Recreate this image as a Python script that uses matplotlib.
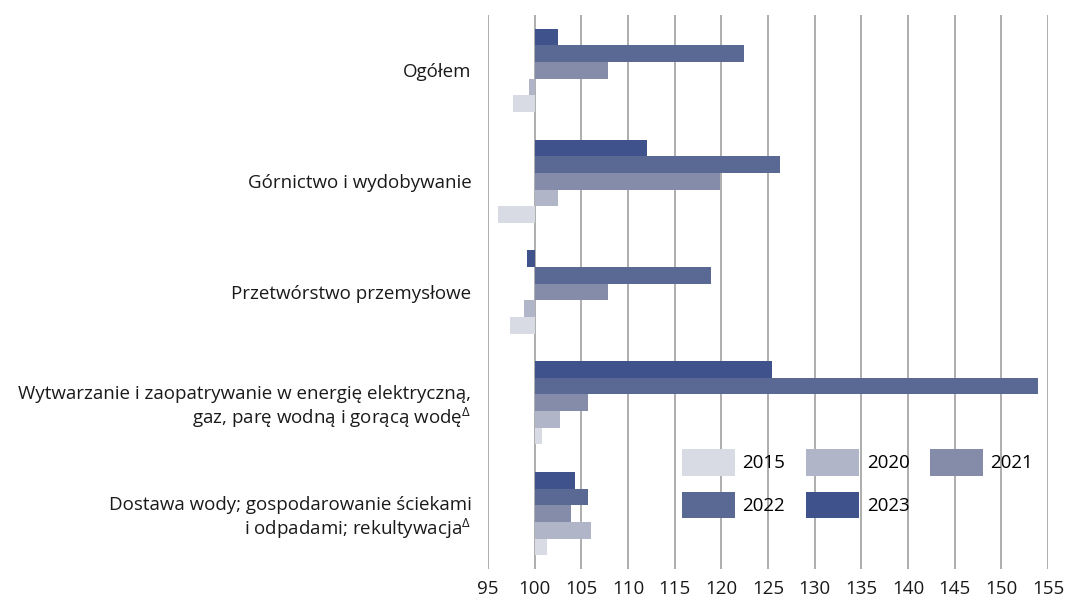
import matplotlib
matplotlib.use("Agg")
import matplotlib.pyplot as plt
import numpy as np

plt.rcParams['font.family'] = ['Open Sans', 'DejaVu Sans']
plt.rcParams['mathtext.fontset'] = 'custom'
plt.rcParams['mathtext.rm'] = 'Open Sans'
plt.rcParams['mathtext.it'] = 'Open Sans'

categories = [
    "Ogółem",
    "Górnictwo i wydobywanie",
    "Przetwórstwo przemysłowe",
    "Wytwarzanie i zaopatrywanie w energię elektryczną,\ngaz, parę wodną i gorącą wodę$^{\\Delta}$",
    "Dostawa wody; gospodarowanie ściekami\ni odpadami; rekultywacja$^{\\Delta}$",
]
years = ["2015", "2020", "2021", "2022", "2023"]
v2015 = [97.7, 96.1, 97.4, 100.8, 101.3]
v2020 = [99.4, 102.5, 98.8, 102.7, 106.0]
v2021 = [107.9, 119.9, 107.8, 105.7, 103.9]
v2022 = [122.4, 126.3, 118.9, 153.9, 105.7]
v2023 = [102.5, 112.0, 99.2, 125.4, 104.3]
series = [v2015, v2020, v2021, v2022, v2023]
colors = ["#d8dbe4", "#b0b5c8", "#858ca9", "#5a6894", "#3f528c"]
xticks = list(range(95, 160, 5))

fig = plt.figure(figsize=(10.67, 6.03), dpi=100)
ax = fig.add_axes([0.4574, 0.0564, 0.5248, 0.9187])

base = 100
h = 0.15
offsets = [0.3, 0.15, 0.0, -0.15, -0.3]
y = np.arange(len(categories))
handles = []
for vals, off, col, lab in zip(series, offsets, colors, years):
    vals = np.array(vals)
    b = ax.barh(y + off, vals - base, left=base, height=h, color=col, label=lab,
                edgecolor='none', zorder=2)
    handles.append(b)

ax.set_ylim(4.5, -0.5)
ax.set_xlim(95, 155)
ax.set_xticks(xticks)
ax.set_xticklabels([str(t) for t in xticks])
ax.set_yticks(y)
ax.set_yticklabels(categories, ha='right', multialignment='right')
ax.tick_params(axis='both', length=0, labelsize=13.5, colors='#1a1a1a')
ax.tick_params(axis='y', pad=12)
ax.tick_params(axis='x', pad=8)
for s in ax.spines.values():
    s.set_visible(False)
ax.grid(axis='x', color='#a0a0a0', linewidth=1.2)
ax.grid(axis='y', visible=False)
ax.set_axisbelow(True)

# row-wise legend order: 2015 2020 2021 / 2022 2023
order = [0, 3, 1, 4, 2]
ax.legend([handles[i] for i in order], [years[i] for i in order],
          ncol=3, frameon=False, fontsize=13.5, loc='upper left',
          bbox_to_anchor=(0.333, 0.230), borderaxespad=0,
          handlelength=2.8, handleheight=1.8,
          handletextpad=0.43, columnspacing=1.1, labelspacing=0.85)

fig.savefig("out.png", dpi=100)
